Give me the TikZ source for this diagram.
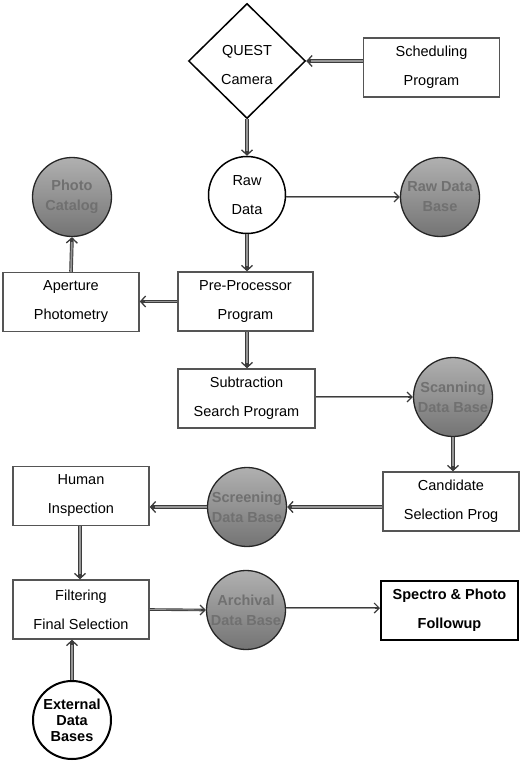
\documentclass[tikz,border=0pt]{standalone}
\usepackage{fontspec}
\setmainfont{Liberation Sans}
\usetikzlibrary{shapes.geometric,arrows.meta}
\definecolor{circtop}{RGB}{176,176,176}
\definecolor{circbot}{RGB}{116,116,116}
\definecolor{circtxt}{RGB}{112,112,112}
\definecolor{boxline}{RGB}{85,85,85}
\definecolor{shaft}{RGB}{150,150,150}
\definecolor{shaftedge}{RGB}{60,60,60}
\begin{document}
\begin{tikzpicture}[x=1pt,y=-1pt,
  every node/.style={font=\fontsize{14.5}{29}\selectfont, align=center, inner sep=0pt},
  box/.style={draw=boxline, line width=1.5pt, fill=white, minimum width=136pt, minimum height=59pt},
  boldbox/.style={draw=black, line width=2pt, fill=white, minimum width=136pt, minimum height=59pt, font=\fontsize{14.5}{29}\selectfont\bfseries},
  diam/.style={draw=black, line width=1.5pt, diamond, aspect=1.02, minimum width=117pt, minimum height=115pt},
  wcirc/.style={draw=black, line width=1.5pt, fill=white, circle, minimum size=77pt},
  ecirc/.style={draw=black, line width=2pt, fill=white, circle, minimum size=78pt, font=\fontsize{14.5}{16}\selectfont\bfseries},
  gcirc/.style={draw=black!85, line width=1.3pt, circle, minimum size=79pt, top color=circtop, bottom color=circbot, text=circtxt, font=\fontsize{14.5}{20}\selectfont\bfseries},
  conn/.style={draw=shaftedge, line width=3.6pt, -{Straight Barb[length=5pt,width=11pt,line width=1.3pt]},
    postaction={draw=shaft, line width=1.7pt, -, shorten >=5pt}},
  thinconn/.style={draw=shaftedge, line width=2.6pt, -{Straight Barb[length=5pt,width=10pt,line width=1.2pt]},
    postaction={draw=shaft, line width=0.8pt, -, shorten >=5pt}}
]
\useasboundingbox (0,0) rectangle (525,762);

\node[diam] (quest) at (247,61) {};
\node (questlbl) at (247,65) {QUEST\\Camera};
\node[box] (sched) at (431.5,67.5) {Scheduling\\Program};
\node[wcirc] (raw) at (247,195) {Raw\\Data};
\node[gcirc] (rawdb) at (440,197) {Raw Data\\Base};
\node[gcirc] (photo) at (72,197) {Photo\\Catalog};
\node[box] (aper) at (71,302) {Aperture\\Photometry};
\node[box, minimum width=135pt] (pre) at (245.5,301.5) {Pre-Processor\\Program};
\node[box, minimum width=137pt] (sub) at (246.5,398.5) {Subtraction\\Search Program};
\node[gcirc] (scan) at (453,397) {Scanning\\Data Base};
\node[box] (cand) at (451,501.5) {Candidate\\Selection Prog};
\node[gcirc] (screen) at (247,507) {Screening\\Data Base};
\node[box] (human) at (81,496) {Human\\Inspection};
\node[box] (filt) at (81,609.5) {Filtering\\Final Selection};
\node[gcirc] (arch) at (246,610) {Archival\\Data Base};
\node[boldbox, minimum width=137pt] (spec) at (449.5,610.5) {Spectro \& Photo\\Followup};
\node[ecirc] (ext) at (72,720) {External\\Data\\Bases};

\draw[conn] (sched.west |- quest.east) -- (quest.east);
\draw[conn] (quest.south) -- (raw.north);
\draw[thinconn] (raw.east |- rawdb.west) -- (rawdb.west);
\draw[conn] (raw.south) -- (raw.south |- pre.north);
\draw[conn] (aper.north) -- (photo.south);
\draw[conn] (pre.west) -- (pre.west -| aper.east);
\draw[conn] (pre.south -| raw.south) -- (sub.north -| raw.south);
\draw[thinconn] (sub.east |- scan.west) -- (scan.west);
\draw[conn] (scan.south) -- (scan.south |- cand.north);
\draw[conn] (cand.west |- screen.east) -- (screen.east);
\draw[conn] (screen.west) -- (screen.west -| human.east);
\draw[conn] ([xshift=-1pt]human.south) -- ([xshift=-1pt]filt.north);
\draw[thinconn] (filt.east) -- (arch.west);
\draw[thinconn] ([yshift=2pt]arch.east) -- ([yshift=2pt]arch.east -| spec.west);
\draw[conn] (ext.north) -- (ext.north |- filt.south);
\end{tikzpicture}
\end{document}
